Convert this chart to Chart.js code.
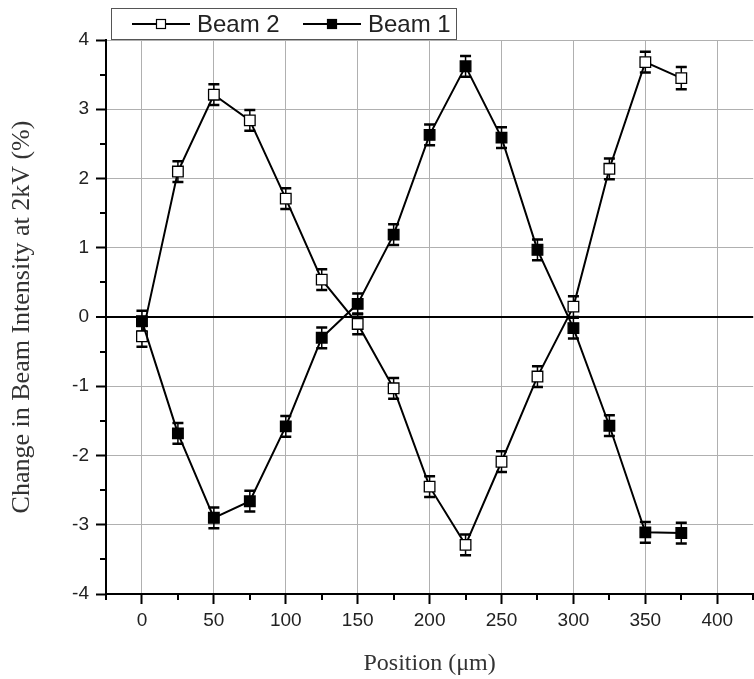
<!DOCTYPE html>
<html>
<head>
<meta charset="utf-8">
<title>Beam intensity vs position</title>
<script src="https://cdn.jsdelivr.net/npm/chart.js@4"></script>
<style>
  html, body { margin: 0; padding: 0; background: #fff; overflow: hidden; }
  canvas { display: block; }
</style>
</head>
<body>
<canvas id="canvas" width="762" height="679"></canvas>
<script>
// measured change of beam intensity (%) at 2 kV along the scan
var positions = [0, 25, 50, 75, 100, 125, 150, 175, 200, 225, 250, 275, 300, 325, 350, 375];
var beam2 = [-0.28, 2.10, 3.21, 2.84, 1.71, 0.54, -0.10, -1.03, -2.45, -3.29, -2.09, -0.86, 0.15, 2.14, 3.68, 3.45];
var beam1 = [-0.06, -1.68, -2.90, -2.66, -1.58, -0.30, 0.19, 1.19, 2.63, 3.62, 2.59, 0.97, -0.16, -1.57, -3.11, -3.12];
var beam2Err = [0.15, 0.15, 0.15, 0.15, 0.15, 0.15, 0.15, 0.15, 0.15, 0.15, 0.15, 0.15, 0.15, 0.15, 0.15, 0.16];
var beam1Err = [0.15, 0.15, 0.15, 0.15, 0.15, 0.15, 0.15, 0.15, 0.15, 0.15, 0.15, 0.15, 0.15, 0.15, 0.15, 0.15];

// axis ranges and ticks
var xMin = -25, xMax = 425, xMinor = 25, xMajor = 50;
var yMin = -4, yMax = 4, yMinor = 0.5, yMajor = 1;

var legendItems = [
  { label: 'Beam 2', fill: '#ffffff' },
  { label: 'Beam 1', fill: '#000000' }
];

function points(ys) {
  return positions.map(function (x, i) { return { x: x, y: ys[i] }; });
}
function isMajor(v, step) {
  return Math.abs(v / step - Math.round(v / step)) < 1e-6;
}

// vertical error bars with caps, drawn under the markers
var errorBars = {
  id: 'errorBars',
  beforeDatasetsDraw: function (chart) {
    var ctx = chart.ctx, xs = chart.scales.x, ys = chart.scales.y;
    var errs = [beam2Err, beam1Err];
    ctx.save();
    ctx.strokeStyle = '#000';
    chart.data.datasets.forEach(function (ds, d) {
      ds.data.forEach(function (p, i) {
        var px = xs.getPixelForValue(p.x);
        var top = ys.getPixelForValue(p.y + errs[d][i]);
        var bot = ys.getPixelForValue(p.y - errs[d][i]);
        ctx.lineWidth = 1.5;
        ctx.beginPath();
        ctx.moveTo(px, top); ctx.lineTo(px, bot);
        ctx.stroke();
        ctx.lineWidth = 2.5;
        ctx.beginPath();
        ctx.moveTo(px - 5.5, top); ctx.lineTo(px + 5.5, top);
        ctx.moveTo(px - 5.5, bot); ctx.lineTo(px + 5.5, bot);
        ctx.stroke();
      });
    });
    ctx.restore();
  }
};

// short minor ticks plus the boxed legend on top
var extras = {
  id: 'extras',
  afterDraw: function (chart) {
    var ctx = chart.ctx, xs = chart.scales.x, ys = chart.scales.y, area = chart.chartArea;
    ctx.save();
    ctx.strokeStyle = '#000';
    ctx.lineWidth = 2;
    ctx.beginPath();
    for (var v = yMin; v <= yMax; v += yMinor) {
      if (isMajor(v, yMajor)) continue;
      var py = Math.round(ys.getPixelForValue(v));
      ctx.moveTo(area.left - 6, py); ctx.lineTo(area.left, py);
    }
    for (var u = xMin; u <= xMax; u += xMinor) {
      if (isMajor(u, xMajor)) continue;
      var px = Math.round(xs.getPixelForValue(u));
      ctx.moveTo(px, area.bottom); ctx.lineTo(px, area.bottom + 6);
    }
    ctx.stroke();

    // legend
    ctx.fillStyle = '#fff';
    ctx.fillRect(111, 8, 346, 32);
    ctx.strokeStyle = '#555';
    ctx.lineWidth = 1;
    ctx.strokeRect(111.5, 8.5, 345, 31);
    ctx.font = '24px "Liberation Sans", Arial, sans-serif';
    ctx.textBaseline = 'middle';
    var x0 = 132;
    legendItems.forEach(function (it) {
      ctx.strokeStyle = '#000';
      ctx.lineWidth = 2;
      ctx.beginPath();
      ctx.moveTo(x0, 24); ctx.lineTo(x0 + 58, 24);
      ctx.stroke();
      ctx.fillStyle = it.fill;
      ctx.fillRect(x0 + 24.5, 19.5, 9, 9);
      ctx.lineWidth = 1.2;
      ctx.strokeRect(x0 + 24.5, 19.5, 9, 9);
      ctx.fillStyle = '#222';
      ctx.fillText(it.label, x0 + 65, 25);
      x0 += 171;
    });
    ctx.restore();
  }
};

var ctx = document.getElementById('canvas').getContext('2d');
window.myChart = new Chart(ctx, {
  type: 'line',
  data: {
    datasets: [{
      label: 'Beam 2',
      data: points(beam2),
      order: 2,
      borderColor: '#000',
      borderWidth: 2,
      pointStyle: 'rect',
      pointRadius: 7.5,
      pointBorderWidth: 1.3,
      pointBackgroundColor: '#fff',
      pointBorderColor: '#000'
    }, {
      label: 'Beam 1',
      data: points(beam1),
      order: 1,
      borderColor: '#000',
      borderWidth: 2,
      pointStyle: 'rect',
      pointRadius: 7.5,
      pointBorderWidth: 1.3,
      pointBackgroundColor: '#000',
      pointBorderColor: '#000'
    }]
  },
  options: {
    responsive: false,
    animation: false,
    devicePixelRatio: 1,
    layout: { padding: { top: 40, left: 0, right: 0, bottom: 0 } },
    plugins: {
      legend: { display: false },
      tooltip: { enabled: false }
    },
    scales: {
      x: {
        type: 'linear',
        min: xMin,
        max: xMax,
        afterFit: function (s) { s.height = 85; },
        border: { color: '#000', width: 2 },
        grid: {
          color: function (c) { return isMajor(c.tick.value, xMajor) ? '#b0b0b0' : 'rgba(0,0,0,0)'; },
          lineWidth: 1,
          tickLength: 10,
          tickWidth: 2,
          tickColor: function (c) { return isMajor(c.tick.value, xMajor) ? '#000' : 'rgba(0,0,0,0)'; }
        },
        ticks: {
          stepSize: xMinor,
          autoSkip: false,
          maxRotation: 0,
          padding: 5,
          color: '#222',
          font: { family: '"Liberation Sans", Arial, sans-serif', size: 19 },
          callback: function (v) { return isMajor(v, xMajor) ? String(v) : ''; }
        },
        title: {
          display: true,
          text: 'Position (\u03bcm)',
          color: '#333',
          padding: { top: 0, bottom: 1 },
          font: { family: '"Liberation Serif", "Times New Roman", serif', size: 24 }
        }
      },
      y: {
        min: yMin,
        max: yMax,
        afterFit: function (s) { s.width = 106; },
        border: { color: '#000', width: 2 },
        grid: {
          color: function (c) {
            if (c.tick.value === 0) return '#000';
            return isMajor(c.tick.value, yMajor) ? '#b0b0b0' : 'rgba(0,0,0,0)';
          },
          lineWidth: function (c) { return c.tick.value === 0 ? 2 : 1; },
          tickLength: 10,
          tickWidth: 2,
          tickColor: function (c) { return isMajor(c.tick.value, yMajor) ? '#000' : 'rgba(0,0,0,0)'; }
        },
        ticks: {
          stepSize: yMinor,
          autoSkip: false,
          padding: 7,
          color: '#222',
          font: { family: '"Liberation Sans", Arial, sans-serif', size: 19 },
          callback: function (v) { return isMajor(v, yMajor) ? String(v) : ''; }
        },
        title: {
          display: true,
          text: 'Change in Beam Intensity at 2kV (%)',
          color: '#333',
          padding: { top: 7, bottom: 0 },
          font: { family: '"Liberation Serif", "Times New Roman", serif', size: 26 }
        }
      }
    }
  },
  plugins: [errorBars, extras]
});
</script>
</body>
</html>
